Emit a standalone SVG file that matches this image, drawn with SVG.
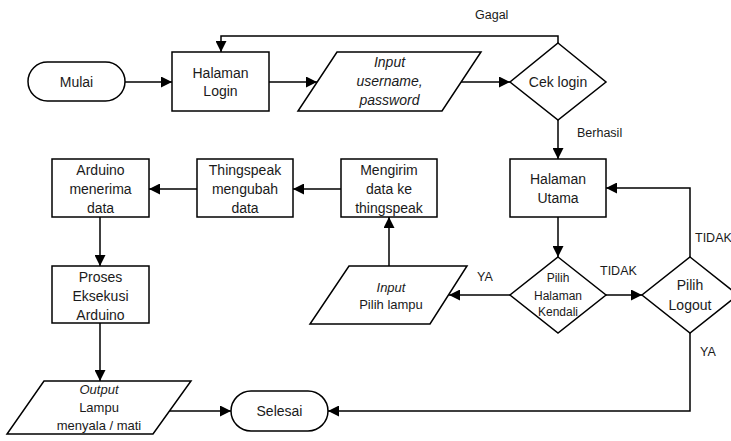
<svg xmlns="http://www.w3.org/2000/svg" width="731" height="441" viewBox="0 0 731 441">
<defs>
<marker id="arr" markerWidth="11" markerHeight="11" refX="11" refY="5.5" orient="auto" markerUnits="userSpaceOnUse">
<path d="M0,0 L11,5.5 L0,11 z" fill="#000"/>
</marker>
<style>
.s{fill:#fff;stroke:#000;stroke-width:1.5}
.c{fill:none;stroke:#000;stroke-width:1.5;marker-end:url(#arr)}
text{font-family:"Liberation Sans",Arial,sans-serif;fill:#1a1a1a;dominant-baseline:central}
.t{font-size:14px;text-anchor:middle}
.m{font-size:12px;text-anchor:middle}
.n{font-size:13px;text-anchor:middle}
.lb{font-size:12.5px}
.i{font-style:italic}
</style>
</defs>
<rect width="731" height="441" fill="#fff"/>
<g id="connectors">
<path class="c" d="M125,82 H172"/>
<path class="c" d="M269,82 H317"/>
<path class="c" d="M461,82 H510"/>
<path class="c" d="M558,43 V36 H221 V52"/>
<path class="c" d="M558,120 V159"/>
<path class="c" d="M558,217 V257"/>
<path class="c" d="M606,295 H642"/>
<path class="c" d="M690,257 V188 H606"/>
<path class="c" d="M690,333 V411 H328"/>
<path class="c" d="M510,295 H449"/>
<path class="c" d="M389,266 V217"/>
<path class="c" d="M341,189 H293"/>
<path class="c" d="M197,189 H149"/>
<path class="c" d="M100,217 V266"/>
<path class="c" d="M100,323 V381"/>
<path class="c" d="M169,411 H231"/>
<text class="lb" x="475" y="15">Gagal</text>
<text class="lb" x="577" y="133">Berhasil</text>
<text class="lb" x="695" y="238">TIDAK</text>
<text class="lb" x="600" y="271">TIDAK</text>
<text class="lb" x="477" y="277">YA</text>
<text class="lb" x="700" y="352">YA</text>
</g>
<g id="mulai">
<rect class="s" x="28" y="62" width="97" height="39" rx="19.5"/>
<text class="t" x="76.5" y="82">Mulai</text>
</g>
<g id="halaman-login">
<rect class="s" x="172" y="52" width="97" height="59"/>
<text class="t" x="220.5" y="73">Halaman</text>
<text class="t" x="220.5" y="91">Login</text>
</g>
<g id="input-login">
<polygon class="s" points="337,52 481,52 442,111 298,111"/>
<text class="t i" x="389.5" y="62">Input</text>
<text class="t i" x="389.5" y="81">username,</text>
<text class="t i" x="389.5" y="100">password</text>
</g>
<g id="cek-login">
<polygon class="s" points="558,43 606,82 558,120 510,82"/>
<text class="t" x="558" y="82">Cek login</text>
</g>
<g id="halaman-utama">
<rect class="s" x="510" y="159" width="96" height="58"/>
<text class="t" x="558" y="179">Halaman</text>
<text class="t" x="558" y="198">Utama</text>
</g>
<g id="pilih-kendali">
<polygon class="s" points="558,257 606,295 558,333 510,295"/>
<text class="m" x="558" y="278">Pilih</text>
<text class="m" x="558" y="296">Halaman</text>
<text class="m" x="558" y="312">Kendali</text>
</g>
<g id="pilih-logout">
<polygon class="s" points="690,257 738,295 690,333 642,295"/>
<text class="t" x="690" y="285">Pilih</text>
<text class="t" x="690" y="305">Logout</text>
</g>
<g id="input-lampu">
<polygon class="s" points="349,266 467,266 430,324 310,324"/>
<text class="n i" x="391" y="287">Input</text>
<text class="n" x="391" y="304">Pilih lampu</text>
</g>
<g id="mengirim">
<rect class="s" x="341" y="159" width="96" height="58"/>
<text class="t" x="389" y="170">Mengirim</text>
<text class="t" x="389" y="189">data ke</text>
<text class="t" x="389" y="208">thingspeak</text>
</g>
<g id="thingspeak">
<rect class="s" x="197" y="159" width="96" height="58"/>
<text class="t" x="245" y="170">Thingspeak</text>
<text class="t" x="245" y="189">mengubah</text>
<text class="t" x="245" y="208">data</text>
</g>
<g id="arduino-menerima">
<rect class="s" x="52" y="159" width="97" height="58"/>
<text class="t" x="100.5" y="170">Arduino</text>
<text class="t" x="100.5" y="189">menerima</text>
<text class="t" x="100.5" y="208">data</text>
</g>
<g id="proses">
<rect class="s" x="52" y="266" width="97" height="57"/>
<text class="t" x="100.5" y="277">Proses</text>
<text class="t" x="100.5" y="296">Eksekusi</text>
<text class="t" x="100.5" y="315">Arduino</text>
</g>
<g id="output">
<polygon class="s" points="44,381 191,381 153,434 7,434"/>
<text class="n i" x="99" y="389">Output</text>
<text class="n" x="99" y="407">Lampu</text>
<text class="n" x="99" y="425">menyala / mati</text>
</g>
<g id="selesai">
<rect class="s" x="231" y="391" width="97" height="40" rx="20"/>
<text class="t" x="279.5" y="411">Selesai</text>
</g>
</svg>
